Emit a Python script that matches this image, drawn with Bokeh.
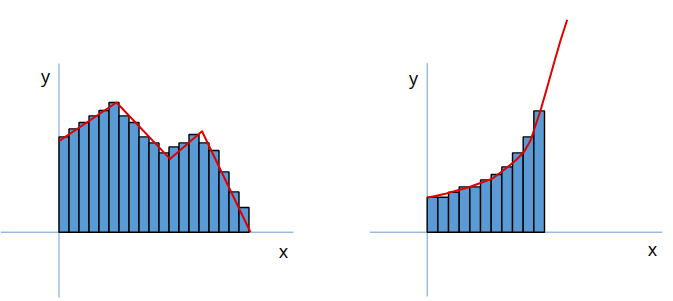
from bokeh.plotting import figure
from bokeh.layouts import row
from bokeh.models import Range1d
from bokeh.core.properties import value
from bokeh.embed import file_html
from bokeh.resources import INLINE

# ---- data (pixel-like units) ----
left_heights = [95.3, 103.3, 109.7, 116.3, 121.7, 129.7, 116.3, 109.7, 95.3, 89.3,
                79.3, 85.3, 89.3, 97.7, 89.3, 81.7, 60.3, 40.3, 24.7]
left_line_x = [0, 57.5, 111, 143, 191.5]
left_line_y = [91, 129.7, 73.3, 101, 0]

right_heights = [35, 35, 40, 45.3, 45.3, 52.3, 57.7, 65.3, 79.3, 95.3, 121.3]
right_curve_x = [0, 18.3, 41.6, 65, 78.3, 88.3, 96.6, 103.3, 113.3, 120, 126.6, 133.3, 140]
right_curve_y = [34.4, 38.4, 45, 53.4, 63.4, 71.7, 80, 91.7, 121.7, 145, 168.4, 191.7, 212.4]

AXIS_COLOR = "#6A9BD1"
BAR_COLOR = "#5B9BD5"
RED = "#E00000"
FONT = "Open Sans"


def panel(width, x0, heights, bar_w, lx, ly, hx, vy, label_y_pos, label_x_pos):
    p = figure(width=width, height=301, output_backend="svg", toolbar_location=None,
               x_range=Range1d(-x0, width - x0), y_range=Range1d(-69.3, 231.7),
               min_border=0)
    p.axis.visible = False
    p.grid.visible = False
    p.outline_line_color = None
    p.background_fill_color = "white"
    p.border_fill_color = "white"
    # axes lines
    p.line(x=list(hx), y=[0, 0], line_color=AXIS_COLOR, line_width=1)
    p.line(x=[0, 0], y=list(vy), line_color=AXIS_COLOR, line_width=1)
    # bars
    lefts = [i * bar_w for i in range(len(heights))]
    rights = [(i + 1) * bar_w for i in range(len(heights))]
    p.quad(left=lefts, right=rights, bottom=0, top=heights,
           fill_color=BAR_COLOR, line_color="black", line_width=1.4)
    # red line
    p.line(x=lx, y=ly, line_color=RED, line_width=2, line_join="round")
    p.text(x=[label_y_pos[0]], y=[label_y_pos[1]], text=["y"], text_align="center",
           text_baseline="middle", text_font=value(FONT), text_font_size="18px",
           text_color="black")
    p.text(x=[label_x_pos[0]], y=[label_x_pos[1]], text=["x"], text_align="center",
           text_baseline="middle", text_font=value(FONT), text_font_size="18px",
           text_color="black")
    return p


p1 = panel(336, 58.5, left_heights, 10.0, left_line_x, left_line_y,
           (-58.5, 234.5), (168.7, -65.3), (-13.5, 156.7), (224.5, -18.3))
p2 = panel(337, 90.7, right_heights, 117.3 / 11, right_curve_x, right_curve_y,
           (-57.4, 235), (169, -64.3), (-13.7, 154.7), (225.3, -16.3))

layout = row(p1, p2, spacing=0)
open("out.html", "w").write(file_html(layout, INLINE))
